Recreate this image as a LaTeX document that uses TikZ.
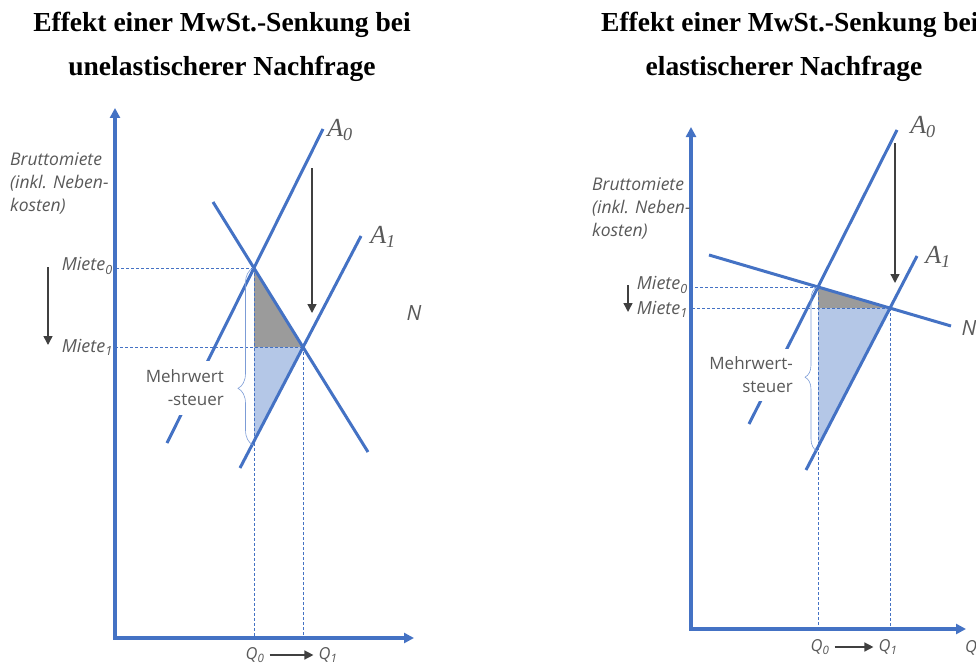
\documentclass[tikz,border=0pt]{standalone}
\usepackage{fontspec}
\setsansfont{Open Sans}
\newfontfamily\titlefont{Liberation Serif}
\usetikzlibrary{arrows.meta, decorations.pathreplacing}
\definecolor{lineblue}{HTML}{4472C4}
\definecolor{fillblue}{HTML}{B4C7E7}
\definecolor{fillgray}{HTML}{9B9B9B}
\definecolor{textgray}{HTML}{595959}
\definecolor{arrowgray}{HTML}{404040}
\tikzstyle{curveline} = [lineblue, line width=3pt]
\tikzstyle{axisline} = [lineblue, line width=3.5pt, {Triangle[length=10pt,width=10pt]}-{Triangle[length=10pt,width=10pt]}]
\tikzstyle{guide} = [lineblue, line width=0.7pt, dash pattern=on 3pt off 2pt]
\tikzstyle{shiftarrow} = [arrowgray, line width=1.4pt, -{Triangle[length=9pt,width=9pt]}]
\tikzstyle{mwstbrace} = [lineblue!70, line width=0.6pt, decorate]
\tikzstyle{titletext} = [font=\titlefont\bfseries\fontsize{27.5}{30}\selectfont, inner sep=0pt]
\tikzstyle{ylabel} = [font=\sffamily\itshape\fontsize{17.5}{23}\selectfont, text=textgray, align=left, anchor=west, inner sep=0pt]
\tikzstyle{pricelabel} = [font=\sffamily\itshape\fontsize{18}{20}\selectfont, text=textgray, anchor=east, inner sep=0pt]
\tikzstyle{qlabel} = [font=\sffamily\itshape\fontsize{16.5}{20}\selectfont, text=textgray, inner sep=1pt]
\tikzstyle{curvelabel} = [font=\titlefont\itshape\fontsize{26}{26}\selectfont, text=textgray, inner sep=0pt]
\tikzstyle{nlabel} = [font=\sffamily\itshape\fontsize{21}{21}\selectfont, text=textgray, inner sep=0pt]
\tikzstyle{taxlabel} = [font=\sffamily\fontsize{17}{23}\selectfont, text=textgray, align=right, fill=white, anchor=east, inner xsep=3pt, inner ysep=9pt]

\begin{document}
\begin{tikzpicture}[x=1pt, y=-1pt]
  \useasboundingbox (0,0) rectangle (976,666);

  \node[titletext] (lt1) at (222,25) {Effekt einer MwSt.-Senkung bei};
  \node[titletext] (lt2) at (222,69) {unelastischerer Nachfrage};
  \node[titletext, anchor=west] (rt1) at (601,25) {Effekt einer MwSt.-Senkung bei};
  \node[titletext] (rt2) at (784,69) {elastischerer Nachfrage};

  % unelastisch
  \coordinate (lO) at (115,638);
  \coordinate (lYtop) at (115,108);
  \coordinate (lXend) at (414,638);
  \coordinate (lE0) at (254,268);
  \coordinate (lE1) at (303,347);
  \coordinate (lB) at (254,441);
  \coordinate (lNa) at (213,202);
  \coordinate (lNb) at (368,452);
  \coordinate (lA0a) at (167,443);
  \coordinate (lA0b) at (323,129);
  \coordinate (lA1a) at (240,468);
  \coordinate (lA1b) at (361,236);
  \coordinate (lBrBot) at (253,445);
  \coordinate (lBrTop) at (253,268);

  \fill[fillgray] (lE0) -- (lE0 |- lE1) -- (lE1) -- cycle;
  \fill[fillblue] (lE0 |- lE1) -- (lE1) -- (lB) -- cycle;
  \draw[guide] (lE0) -- (lE0 -| lO);
  \draw[guide] (lE1) -- (lE1 -| lO);
  \draw[guide] (lE0) -- (lE0 |- lO);
  \draw[guide] (lE1) -- (lE1 |- lO);
  \draw[curveline] (lNa) -- (lNb);
  \draw[curveline] (lA0a) -- (lA0b);
  \draw[curveline] (lA1a) -- (lA1b);
  \draw[axisline] (lYtop) -- (lO) -- (lXend);
  \draw[mwstbrace, decoration={brace, amplitude=15pt, aspect=0.32}] (lBrBot) -- (lBrTop);

  \node[taxlabel] (lTax) at (227,388) {Mehrwert\\-steuer};
  \node[curvelabel] (lA0) at (340,130) {A\textsubscript{0}};
  \node[curvelabel] (lA1) at (383,237) {A\textsubscript{1}};
  \node[nlabel] (lN) at (414,313) {N};
  \node[ylabel] (lY) at (10,183) {Bruttomiete\\(inkl. Neben-\\kosten)};
  \node[pricelabel] (lP0) at (113,266) {Miete\textsubscript{0}};
  \node[pricelabel] (lP1) at (113,347) {Miete\textsubscript{1}};
  \node[qlabel] (lQ0) at (255,655) {Q\textsubscript{0}};
  \node[qlabel] (lQ1) at (328,655) {Q\textsubscript{1}};

  \coordinate (lPa) at (48,267);
  \coordinate (lPb) at (48,345);
  \coordinate (lSa) at (312,168);
  \coordinate (lSb) at (312,313);
  \draw[shiftarrow] (lPa) -- (lPb);
  \draw[shiftarrow] (lSa) -- (lSb);
  \draw[shiftarrow, shorten <=4pt, shorten >=4pt] (lQ0) -- (lQ1);

  % elastisch
  \coordinate (rO) at (691,629);
  \coordinate (rYtop) at (691,127);
  \coordinate (rXend) at (966,629);
  \coordinate (rE0) at (818,287);
  \coordinate (rE1) at (890,308);
  \coordinate (rB) at (818,447);
  \coordinate (rNa) at (709,255);
  \coordinate (rNb) at (951,326);
  \coordinate (rA0a) at (749,424);
  \coordinate (rA0b) at (897,130);
  \coordinate (rA1a) at (806,470);
  \coordinate (rA1b) at (917,256);
  \coordinate (rBrBot) at (817,451);
  \coordinate (rBrTop) at (817,287);

  \fill[fillgray] (rE0) -- (rE0 |- rE1) -- (rE1) -- cycle;
  \fill[fillblue] (rE0 |- rE1) -- (rE1) -- (rB) -- cycle;
  \draw[guide] (rE0) -- (rE0 -| rO);
  \draw[guide] (rE1) -- (rE1 -| rO);
  \draw[guide] (rE0) -- (rE0 |- rO);
  \draw[guide] (rE1) -- (rE1 |- rO);
  \draw[curveline] (rNa) -- (rNb);
  \draw[curveline] (rA0a) -- (rA0b);
  \draw[curveline] (rA1a) -- (rA1b);
  \draw[axisline] (rYtop) -- (rO) -- (rXend);
  \draw[mwstbrace, decoration={brace, amplitude=12pt, aspect=0.45}] (rBrBot) -- (rBrTop);

  \node[taxlabel, inner ysep=8pt] (rTax) at (796,375) {Mehrwert-\\steuer};
  \node[curvelabel] (rA0) at (923,127) {A\textsubscript{0}};
  \node[curvelabel] (rA1) at (938,257) {A\textsubscript{1}};
  \node[nlabel] (rN) at (969,328) {N};
  \node[ylabel] (rY) at (592,208) {Bruttomiete\\(inkl. Neben-\\kosten)};
  \node[pricelabel] (rP0) at (688,285) {Miete\textsubscript{0}};
  \node[pricelabel] (rP1) at (688,309) {Miete\textsubscript{1}};
  \node[qlabel] (rQ0) at (820,647) {Q\textsubscript{0}};
  \node[qlabel] (rQ1) at (888,647) {Q\textsubscript{1}};
  \node[qlabel] (rQ) at (971,648) {Q};

  \coordinate (rPa) at (628,285);
  \coordinate (rPb) at (628,312);
  \coordinate (rSa) at (895,143);
  \coordinate (rSb) at (895,283);
  \draw[shiftarrow] (rPa) -- (rPb);
  \draw[shiftarrow] (rSa) -- (rSb);
  \draw[shiftarrow, shorten <=4pt, shorten >=4pt] (rQ0) -- (rQ1);
\end{tikzpicture}
\end{document}
